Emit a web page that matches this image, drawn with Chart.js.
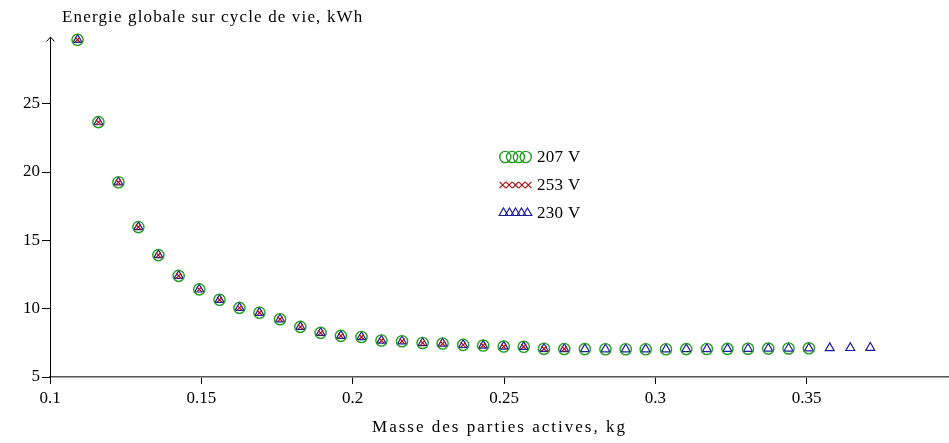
<!DOCTYPE html>
<html><head><meta charset="utf-8">
<script src="https://cdn.jsdelivr.net/npm/chart.js@4"></script>
<style>html,body{margin:0;padding:0;background:#fff}#wrap{width:949px;height:443px}</style>
</head><body><div id="wrap"><canvas id="c" width="949" height="443"></canvas></div>
<script>
const masses = [0.1091,0.1160,0.1226,0.1292,0.1358,0.1425,0.1493,0.1560,0.1626,0.1692,
  0.1760,0.1827,0.1894,0.1961,0.2029,0.2095,0.2163,0.2231,0.2297,0.2365,
  0.2431,0.2499,0.2565,0.2632,0.2699,0.2767,0.2835,0.2902,0.2968,0.3035,
  0.3102,0.3170,0.3238,0.3306,0.3373,0.3440,0.3507,0.3576,0.3644,0.3710];
const energy207 = [29.68,23.65,19.25,15.97,13.92,12.40,11.41,10.65,10.06,9.70,
  9.23,8.67,8.23,8.01,7.93,7.67,7.62,7.49,7.45,7.35,
  7.30,7.23,7.21,7.07,7.05,7.04,7.03,7.03,7.03,7.03,
  7.04,7.05,7.06,7.07,7.08,7.09,7.10];
const energy253 = [29.68,23.65,19.25,15.97,13.92,12.40,11.41,10.65,10.06,9.70,
  9.23,8.67,8.23,8.01,7.93,7.67,7.62,7.49,7.45,7.35,
  7.30,7.23,7.21,7.07,7.05];
const energy230 = [29.68,23.65,19.25,15.97,13.92,12.40,11.41,10.65,10.06,9.70,
  9.23,8.67,8.23,8.01,7.93,7.67,7.62,7.49,7.45,7.35,
  7.30,7.23,7.21,7.07,7.05,7.04,7.03,7.03,7.03,7.03,
  7.04,7.05,7.06,7.07,7.08,7.09,7.10,7.12,7.13,7.14];
const seriesLabels = ['207 V', '253 V', '230 V'];
const xTicks = [0.1, 0.15, 0.2, 0.25, 0.3, 0.35];
const yTicks = [5, 10, 15, 20, 25];
const xTitle = 'Masse des parties actives, kg';
const yTitle = 'Energie globale sur cycle de vie, kWh';

const GREEN = '#1f9e1f', RED = '#b01010', BLUE = '#1c1ca0';
const FONT = '"Liberation Serif", "DejaVu Serif", serif';

function pts(arr) { return arr.map((y, i) => ({ x: masses[i], y })); }

Chart.defaults.font.family = FONT;
Chart.defaults.font.size = 17;
Chart.defaults.color = '#000';

const styles = [
  { pointStyle: 'circle', radius: 5.6, color: GREEN, bw: 1.4, n: 4, step: 6.8, lr: 5.6 },
  { pointStyle: 'crossRot', radius: 3.6, color: RED, bw: 1.2, n: 5, step: 6.4, lr: 4.4 },
  { pointStyle: 'triangle', radius: 5.2, color: BLUE, bw: 1.2, n: 5, step: 6.0, lr: 5.0 }
];

const legendPlugin = {
  id: 'decor',
  afterDraw(chart) {
    const ctx = chart.ctx;
    const ca = chart.chartArea;
    ctx.save();
    // y axis arrow
    ctx.strokeStyle = '#000'; ctx.lineWidth = 1;
    ctx.beginPath();
    ctx.moveTo(ca.left - 3.5, ca.top + 4.5);
    ctx.lineTo(ca.left + 0.5, ca.top);
    ctx.lineTo(ca.left + 4.5, ca.top + 4.5);
    ctx.stroke();
    // titles
    ctx.fillStyle = '#000';
    ctx.font = '17px ' + FONT;
    ctx.textBaseline = 'alphabetic';
    ctx.textAlign = 'left';
    ctx.letterSpacing = '1.15px';
    ctx.fillText(yTitle, 62, 22);
    ctx.textAlign = 'center';
    ctx.letterSpacing = '2px';
    ctx.fillText(xTitle, (ca.left + ca.right) / 2, 432);
    ctx.letterSpacing = '0.3px';
    // legend
    const rowsY = [157, 185, 213];
    chart.data.datasets.forEach((ds, k) => {
      const st = styles[k];
      ctx.strokeStyle = st.color; ctx.fillStyle = 'rgba(0,0,0,0)'; ctx.lineWidth = st.bw;
      const total = (st.n - 1) * st.step;
      const x0 = 515.5 - total / 2;
      for (let i = 0; i < st.n; i++) {
        Chart.helpers.drawPoint(ctx, { pointStyle: st.pointStyle, radius: st.lr, rotation: 0, borderWidth: st.bw }, x0 + i * st.step, rowsY[k]);
      }
      ctx.fillStyle = '#000';
      ctx.textAlign = 'left';
      ctx.textBaseline = 'middle';
      ctx.fillText(seriesLabels[k], 537, rowsY[k] + 1);
    });
    ctx.restore();
  }
};

const series = [energy207, energy253, energy230];
new Chart(document.getElementById('c'), {
  type: 'scatter',
  data: {
    datasets: series.map((arr, k) => ({
      label: seriesLabels[k],
      data: pts(arr),
      showLine: false,
      pointStyle: styles[k].pointStyle,
      pointRadius: styles[k].radius,
      pointBorderColor: styles[k].color,
      pointBackgroundColor: 'rgba(0,0,0,0)',
      pointBorderWidth: styles[k].bw,
      clip: false
    }))
  },
  options: {
    responsive: false,
    devicePixelRatio: 1,
    animation: false,
    layout: { autoPadding: false, padding: { top: 37, right: 0, left: 0, bottom: 0 } },
    plugins: { legend: { display: false }, tooltip: { enabled: false } },
    scales: {
      x: {
        type: 'linear', min: 0.1, max: 0.397,
        afterBuildTicks: s => { s.ticks = xTicks.map(v => ({ value: v })); },
        afterFit: s => { s.height = 66; s.paddingRight = 0; s.paddingLeft = 0; },
        grid: { drawOnChartArea: false, drawTicks: true, tickLength: 7, color: '#000', lineWidth: 1 },
        border: { color: '#555', width: 1.6 },
        ticks: { padding: 4, callback: v => String(v), maxRotation: 0, autoSkip: false }
      },
      y: {
        type: 'linear', min: 5, max: 29.88,
        afterBuildTicks: s => { s.ticks = yTicks.map(v => ({ value: v })); },
        afterFit: s => { s.width = 50; s.paddingTop = 0; s.paddingBottom = 0; },
        grid: { drawOnChartArea: false, drawTicks: true, tickLength: 8, color: '#000', lineWidth: 1 },
        border: { color: '#000', width: 1 },
        ticks: { padding: 2, callback: v => String(v) }
      }
    }
  },
  plugins: [legendPlugin]
});
</script></body></html>
